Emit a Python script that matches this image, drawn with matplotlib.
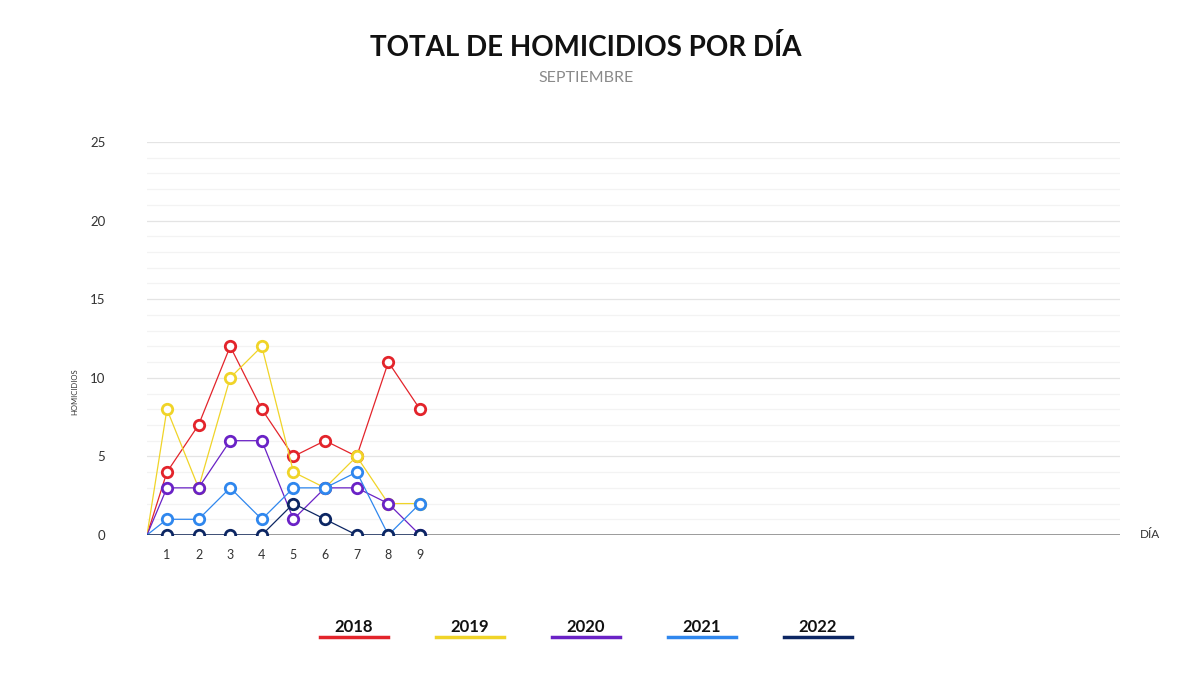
import matplotlib
matplotlib.use("Agg")
import matplotlib.pyplot as plt
import numpy as np

# data (September, days 1-9)
days = [1, 2, 3, 4, 5, 6, 7, 8, 9]
years = ["2018", "2019", "2020", "2021", "2022"]
h2018 = [4, 7, 12, 8, 5, 6, 5, 11, 8]
h2019 = [8, 3, 10, 12, 4, 3, 5, 2, 2]
h2020 = [3, 3, 6, 6, 1, 3, 3, 2, 0]
h2021 = [1, 1, 3, 1, 3, 3, 4, 0, 2]
h2022 = [0, 0, 0, 0, 2, 1, 0, 0, 0]
colors = ["#e3242b", "#f0d428", "#6a22c6", "#2f87ee", "#0c2663"]

x_min, x_max = 0.37, 31.13   # axis spans the whole month
y_max = 25

plt.rcParams['font.family'] = ['Lato', 'DejaVu Sans']

fig = plt.figure(figsize=(12, 6.75), dpi=100)
ax = fig.add_axes([0.1225, 0.2074, 0.8108, 0.5822])

series = [h2018, h2019, h2020, h2021, h2022]
for i, (vals, c) in enumerate(zip(series, colors)):
    # lines start at the left edge of the axis from zero
    xs = [x_min] + days
    ys = [0] + vals
    ax.plot(xs, ys, color=c, lw=0.9, zorder=3 + i)
    ax.plot(days, vals, ls="none", marker="o", ms=7.5, mfc="white",
            mec=c, mew=2, zorder=3 + i)

ax.set_xlim(x_min, x_max)
ax.set_ylim(0, y_max)

# gridlines: faint every unit, a bit stronger every 5
for v in range(1, y_max + 1):
    ax.axhline(v, color="#e4e4e4" if v % 5 == 0 else "#f3f3f3", lw=0.9, zorder=1)
ax.axhline(0, color="#8a8a8a", lw=1.2, zorder=2)

for s in ax.spines.values():
    s.set_visible(False)

ax.set_yticks(range(0, y_max + 1, 5))
ax.set_yticklabels([str(v) for v in range(0, y_max + 1, 5)], fontsize=9.5, color="#333333")
ax.tick_params(axis="y", length=0, pad=30)
ax.set_xticks(days)
ax.set_xticklabels([str(d) for d in days], fontsize=9, color="#333333")
ax.tick_params(axis="x", length=0, pad=10)

fig.text(75 / 1200, 1 - 392 / 675, "HOMICIDIOS", fontsize=5.5, color="#333333",
         rotation=90, ha="center", va="center")
fig.text(1150 / 1200, 1 - 535 / 675, "DÍA", fontsize=8.5, color="#333333",
         ha="center", va="center")

cx_title = 586 / 1200
fig.text(cx_title, 1 - 48 / 675, "TOTAL DE HOMICIDIOS POR DÍA", fontsize=20,
         fontweight="bold", color="#111111", ha="center", va="center")
fig.text(cx_title, 1 - 78 / 675, "SEPTIEMBRE", fontsize=11.5, color="#8a8a8a",
         ha="center", va="center")

# legend: year label with a coloured bar underneath
for i, (yr, c) in enumerate(zip(years, colors)):
    cx = (354 + 116 * i) / 1200
    fig.text(cx, 1 - 627 / 675, yr, fontsize=12, fontweight="bold",
             color="#111111", ha="center", va="center")
    fig.add_artist(plt.Line2D([cx - 34 / 1200, cx + 34 / 1200],
                              [1 - 637 / 675, 1 - 637 / 675],
                              color=c, lw=2.5, transform=fig.transFigure))

fig.savefig("out.png", dpi=100, facecolor="white")
